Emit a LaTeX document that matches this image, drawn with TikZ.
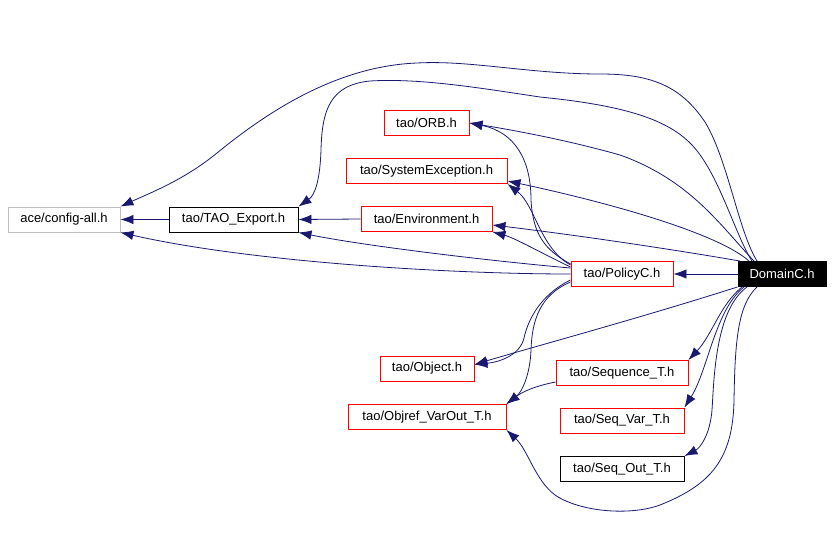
\documentclass[tikz,border=0pt]{standalone}
\usepackage{fontspec}
\setmainfont{Liberation Sans}
\usetikzlibrary{arrows.meta}
\definecolor{incblue}{HTML}{191970}
\definecolor{boxgray}{HTML}{BFBFBF}
\tikzset{%
	file/.style={draw=red,line width=0.9pt,fill=white,inner sep=0pt,minimum height=25pt,font=\fontsize{13}{15}\selectfont},
	incl/.style={draw=incblue,line width=0.8pt,-{Latex[length=13pt,width=9.5pt]}}
}

\begin{document}
\begin{tikzpicture}[x=1pt,y=-1pt]
		\useasboundingbox (0,0) rectangle (834,538);

		\node [file,draw=boxgray,minimum width=112pt] (config) at (64,219.5) {ace/config-all.h};
		\node [file,draw=black,minimum width=129pt] (export) at (233.5,219.5) {tao/TAO\_Export.h};
		\node [file,minimum width=85pt] (orb) at (426.5,123) {tao/ORB.h};
		\node [file,minimum width=161pt] (sysexc) at (426.5,171) {tao/SystemException.h};
		\node [file,minimum width=131pt] (env) at (426.5,219) {tao/Environment.h};
		\node [file,minimum width=102pt] (policy) at (622,274) {tao/PolicyC.h};
		\node [file,draw=black,fill=black,text=white,minimum width=88pt] (domain) at (782,274) {DomainC.h};
		\node [file,minimum width=94pt] (object) at (427,368.5) {tao/Object.h};
		\node [file,minimum width=158pt] (objref) at (427,417) {tao/Objref\_VarOut\_T.h};
		\node [file,minimum width=132pt] (seq) at (622,373) {tao/Sequence\_T.h};
		\node [file,minimum width=124pt] (seqvar) at (622,420.5) {tao/Seq\_Var\_T.h};
		\node [file,draw=black,minimum width=124pt] (seqout) at (622,469) {tao/Seq\_Out\_T.h};

		\draw [incl] (export.west) -- (config.east);
		\draw [incl] (env.west) -- (export.east);
		\draw [incl] (domain.west) -- (policy.east);

		\draw [incl] ([xshift=-25]domain.north) .. controls (738,230) and (728,160) .. (705,122)
			.. controls (680,85) and (650,74) .. (600,74)
			.. controls (530,74) and (470,60) .. (417,63)
			.. controls (340,66) and (272,108) .. (217,153)
			.. controls (184,180) and (150,193) .. (config.north east);
		\draw [incl] ([xshift=-30]domain.north) .. controls (735,235) and (718,170) .. (690,143)
			.. controls (665,118) and (620,105) .. (540,97)
			.. controls (480,88) and (420,78) .. (370,81)
			.. controls (330,85) and (322,110) .. (321,150)
			.. controls (320,180) and (315,195) .. (export.north east);
		\draw [incl] ([xshift=-28]domain.north) .. controls (720,225) and (690,180) .. (620,155)
			.. controls (560,138) and (500,128) .. (orb.east);
		\draw [incl] ([xshift=-33]domain.north) .. controls (720,235) and (620,205) .. ([yshift=-10]sysexc.east);
		\draw [incl] ([xshift=-42]domain.north) .. controls (700,254) and (600,238) .. ([yshift=-6]env.east);
		\draw [incl] (domain.south west) .. controls (640,318) and (540,345) .. ([yshift=4]object.east);
		\draw [incl] ([xshift=-40]domain.south) .. controls (720,305) and (712,335) .. (seq.north east);
		\draw [incl] ([xshift=-38]domain.south) .. controls (715,310) and (708,370) .. (seqvar.north east);
		\draw [incl] ([xshift=-35]domain.south) .. controls (715,310) and (714,380) .. (712,410)
			.. controls (710,435) and (700,448) .. (seqout.north east);
		\draw [incl] ([xshift=-25]domain.south) .. controls (738,305) and (735,340) .. (734,400)
			.. controls (733,460) and (710,485) .. (660,505)
			.. controls (630,516) and (580,512) .. (555,495)
			.. controls (535,480) and (528,450) .. (objref.south east);

		\draw [incl] (policy.west) .. controls (450,274) and (250,262) .. (config.south east);
		\draw [incl] ([yshift=6]policy.west) .. controls (480,260) and (360,245) .. (export.south east);
		\draw [incl] ([yshift=10]policy.west) .. controls (545,250) and (533,235) .. (531,200)
			.. controls (531,160) and (515,132) .. (orb.east);
		\draw [incl] ([yshift=9]policy.west) .. controls (540,248) and (535,205) .. (sysexc.south east);
		\draw [incl] ([yshift=7]policy.west) .. controls (545,255) and (515,238) .. (env.south east);
		\draw [incl] ([yshift=-6]policy.west) .. controls (540,295) and (528,320) .. (524,338)
			.. controls (520,355) and (500,362) .. ([yshift=4]object.east);
		\draw [incl] ([yshift=-8]policy.west) .. controls (540,295) and (532,320) .. (531,350)
			.. controls (530,375) and (522,392) .. (objref.north east);
		\draw [incl] ([yshift=-9]seq.west) .. controls (535,386) and (522,392) .. (objref.north east);

	\end{tikzpicture}
\end{document}
